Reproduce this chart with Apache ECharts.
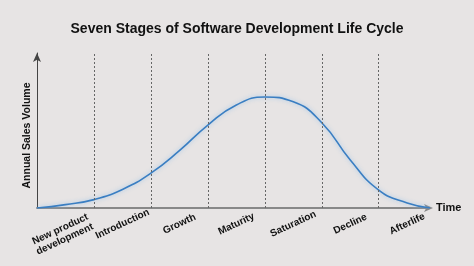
<!DOCTYPE html>
<html>
<head>
<meta charset="utf-8">
<script src="https://cdn.jsdelivr.net/npm/echarts@6/dist/echarts.min.js"></script>
<style>
html,body{margin:0;padding:0;background:#e7e4e4;}
#c{width:474px;height:266px;}
</style>
</head>
<body>
<div id="c"></div>
<script>
var stages = ['New product\ndevelopment','Introduction','Growth','Maturity','Saturation','Decline','Afterlife'];
var stageBounds = [1,2,3,4,5,6];
var curveX = [0,0.5,1,1.5,2,2.5,3,3.5,4,4.5,5,5.5,6,6.5,6.9];
var curveY = [0,2.2,5.4,12,22.5,37,53.5,66.5,71.6,68.5,55,31,11.6,3.2,0];

var chart = echarts.init(document.getElementById('c'));
var font = '"Liberation Sans", Arial, sans-serif';
chart.setOption({
  backgroundColor:'#e7e4e4',
  animation:false,
  title:{text:'Seven Stages of Software Development Life Cycle',left:'center',top:17,
    textStyle:{fontFamily:font,fontSize:14,fontWeight:'bold',color:'#111'}},
  grid:{left:37,right:44,top:53,bottom:58},
  xAxis:{type:'value',min:0,max:6.9,interval:0.5,
    name:'Time',nameLocation:'end',nameGap:6,
    nameTextStyle:{fontFamily:font,fontSize:11,fontWeight:'bold',color:'#111',verticalAlign:'middle'},
    axisLine:{show:true,lineStyle:{color:'#888',width:2},symbol:['none','arrow'],symbolSize:[6,9],symbolOffset:[0,3]},
    axisTick:{show:false},splitLine:{show:false},
    axisLabel:{show:true,rotate:25,align:'center',verticalAlign:'middle',margin:16,
      fontFamily:font,fontSize:10,fontWeight:'bold',color:'#111',lineHeight:11,
      formatter:function(v){var i=Math.floor(v); if(Math.abs(v-i-0.5)<1e-6 && i<stages.length){ return i===0?'{a|'+stages[i]+'}':stages[i];} return '';},
      rich:{a:{fontFamily:font,fontSize:10,fontWeight:'bold',color:'#111',lineHeight:11,padding:[16,14,0,0]}}}
  },
  yAxis:{type:'value',min:0,max:100,
    name:'Annual Sales Volume',nameLocation:'middle',nameGap:4,nameRotate:90,
    nameTextStyle:{fontFamily:font,fontSize:10.5,fontWeight:'bold',color:'#111',padding:[0,10,0,0]},
    axisLine:{show:true,lineStyle:{color:'#444',width:1},symbol:['none','arrow'],symbolSize:[6,9]},
    axisTick:{show:false},axisLabel:{show:false},splitLine:{show:false}
  },
  series:[{type:'line',data:curveX.map(function(x,i){return [x,curveY[i]];}),
    smooth:0.5,symbol:'none',
    lineStyle:{color:'#3a7ec2',width:1.6,shadowColor:'rgba(140,190,235,0.8)',shadowBlur:4},
    markLine:{silent:true,symbol:['none','none'],label:{show:false},
      lineStyle:{color:'#666',type:[2,2],width:1},
      data:stageBounds.map(function(b){return {xAxis:b};})}
  }]
});
</script>
</body>
</html>
